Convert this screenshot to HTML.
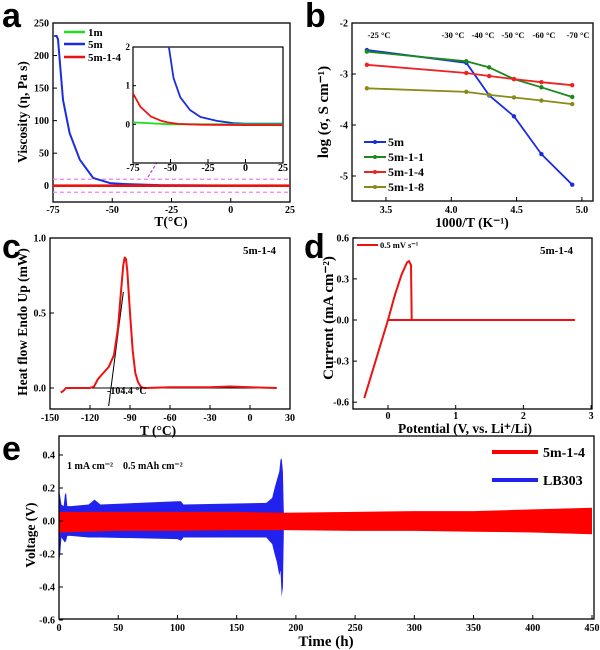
<!DOCTYPE html>
<html><head><meta charset="utf-8"><style>
html,body{margin:0;padding:0;background:#fff}
svg{display:block}
text{font-family:"Liberation Serif",serif;font-weight:bold;fill:#000}
.lt{font-family:"Liberation Sans",sans-serif;font-weight:bold;font-size:34px}
.tk{font-size:10px}
.ti{font-size:13.5px}
</style></head><body>
<svg id="fig" width="600" height="650" viewBox="0 0 600 650" xmlns="http://www.w3.org/2000/svg">
<defs>
<clipPath id="clipA"><rect x="53" y="23" width="237" height="179"/></clipPath>
<clipPath id="clipI"><rect x="133" y="47" width="150" height="116"/></clipPath>
</defs>
<g id="pa"></g>
<g id="pb"></g>
<g id="pc"></g>
<g id="pd"></g>
<g id="pe"></g>
</svg>
<script>
// ---- panel a data ----
const aT5m = [-74.5,-73.5,-72.9,-72.2,-70.8,-68,-63.7,-58.1,-51,-44,-30,0,25];
const aV5m = [230,230,225,195,132,81,40,12,4,2.5,1,0.2,0];
const aT14 = [-75,25];
const aV14 = [0,0];
const aT1m = [-75,25];
const aV1m = [0,0];
const insT5m = [-51.5,-48,-43.5,-37,-30,-19,-8,0,25];
const insV5m = [2.1,1.2,0.7,0.37,0.19,0.09,0.03,0.02,0.02];
const insT14 = [-75,-70,-63,-56,-52,-45,-30,0,25];
const insV14 = [0.8,0.45,0.2,0.09,0.05,0.01,-0.01,-0.02,-0.02];
const insT1m = [-75,-50,0,25];
const insV1m = [0.05,0.0,0.0,0.0];
const aXTicks = [-75,-50,-25,0,25];
const aYTicks = [0,50,100,150,200,250];
const insYTicks = [0,1,2];
// ---- panel b data ----
const bX = [3.354,4.115,4.29,4.48,4.69,4.926];
const b5m = [-2.53,-2.78,-3.42,-3.83,-4.57,-5.17];
const b511 = [-2.56,-2.75,-2.87,-3.1,-3.26,-3.45];
const b514 = [-2.82,-2.98,-3.04,-3.1,-3.16,-3.22];
const b518 = [-3.28,-3.35,-3.41,-3.46,-3.52,-3.59];
const bTempLabels = ["-25 °C","-30 °C","-40 °C","-50 °C","-60 °C","-70 °C"];
const bXTicks = [3.5,4.0,4.5,5.0];
const bYTicks = [-2,-3,-4,-5];
// ---- panel c data ----
const cT = [-142,-140,-138,-135,-120,-117,-114,-110,-106,-102,-99,-97,-95,-94,-93,-92,-90,-88,-86,-84,-82,-80,-78,-60,-30,-15,0,20];
const cH = [-0.03,-0.02,0,0,0,0.01,0.06,0.1,0.14,0.22,0.4,0.62,0.82,0.87,0.86,0.78,0.5,0.25,0.1,0.04,0.01,0,0,0.005,0.005,0.01,0.005,0];
const cXTicks = [-150,-120,-90,-60,-30,0,30];
const cYTicks = [0.0,0.5,1.0];
// ---- panel d data ----
const dV = [-0.35,0,0.1,0.2,0.28,0.31,0.34,0.35,0.36,2.75,0,-0.35];
const dI = [-0.57,0,0.18,0.33,0.42,0.43,0.4,0.0,0,0,0,-0.57];
const dXTicks = [0,1,2,3];
const dYTicks = [-0.6,-0.3,0.0,0.3,0.6];
// ---- panel e data ----
const eBlueT = [0,1,2,4,5,6,7,10,25,30,35,100,103,105,175,180,182,184,186,187,188,189,190];
const eBlueUp = [0.19,0.15,0.1,0.09,0.16,0.17,0.09,0.09,0.1,0.13,0.1,0.12,0.12,0.1,0.11,0.14,0.2,0.25,0.3,0.37,0.38,0.3,0.0];
const eBlueLo = [-0.26,-0.2,-0.1,-0.12,-0.13,-0.12,-0.09,-0.09,-0.1,-0.1,-0.1,-0.11,-0.12,-0.1,-0.1,-0.14,-0.2,-0.25,-0.33,-0.3,-0.46,-0.4,0.0];
const eRedT = [0,50,100,150,190,250,300,350,400,450];
const eRedUp = [0.055,0.055,0.055,0.055,0.05,0.055,0.06,0.06,0.07,0.08];
const eRedLo = [-0.07,-0.06,-0.06,-0.055,-0.055,-0.06,-0.06,-0.065,-0.07,-0.08];
const eXTicks = [0,50,100,150,200,250,300,350,400,450];
const eYTicks = [-0.6,-0.4,-0.2,0.0,0.2,0.4];

const NS="http://www.w3.org/2000/svg";
function mk(parent,tag,attrs,txt){const e=document.createElementNS(NS,tag);for(const k in attrs)e.setAttribute(k,attrs[k]);if(txt!==undefined)e.textContent=txt;parent.appendChild(e);return e;}
function pts(xs,ys,sx,sy){return xs.map((v,i)=>sx(v).toFixed(1)+","+sy(ys[i]).toFixed(1)).join(" ");}

// scales
const aX=v=>53+(v+75)/100*237, aY=v=>202-(v+25)/275*179;
const iX=v=>133+(v+75)/100*150, iY=v=>163-(v+1)/3*116;
const bXs=v=>352+(v-3.24)/(5.085-3.24)*241, bYs=v=>23+(-2-v)*51;
const cX=v=>50+(v+150)/180*240, cY=v=>388-v*150;
const dX=v=>388+v*67.7, dY=v=>320-v*137;
const eX=v=>59+v/450*533, eY=v=>521-v*165;

function frame(g,x,y,w,h){const r=mk(g,"rect",{x:x,y:y,width:w,height:h,fill:"none",stroke:"#000","stroke-width":1.3});}
function xticks(g,ticks,sx,y0,fmt,ly){ticks.forEach(t=>{const x=sx(t);mk(g,"line",{x1:x,x2:x,y1:y0,y2:y0-4,stroke:"#000"});const tx=mk(g,"text",{x:x,y:ly,"text-anchor":"middle",class:"tk"},fmt(t));});}
function yticks(g,ticks,sy,x0,fmt){ticks.forEach(t=>{const y=sy(t);mk(g,"line",{x1:x0,x2:x0+4,y1:y,y2:y,stroke:"#000"});const tx=mk(g,"text",{x:x0-4,y:y+3.5,"text-anchor":"end",class:"tk"},fmt(t));});}
function line(g,xs,ys,sx,sy,col,w,name,clip){const p=mk(g,"polyline",{points:pts(xs,ys,sx,sy),fill:"none",stroke:col,"stroke-width":w,"stroke-linejoin":"round"});if(clip)p.setAttribute("clip-path",clip);return p;}
function label(g,x,y,s,cls,name,extra){const t=mk(g,"text",Object.assign({x:x,y:y,class:cls},extra||{}),s);return t;}

// ===== Panel a =====
(function(){
const g=document.getElementById("pa");
label(g,2,27,"a","lt","panel-label-a");
frame(g,53,23,237,179);
xticks(g,aXTicks,aX,202,t=>t,213);
yticks(g,aYTicks,aY,53,t=>t);
mk(g,"line",{x1:53,x2:290,y1:aY(10),y2:aY(10),stroke:"#f080f0","stroke-width":1.2,"stroke-dasharray":"4,3"});
mk(g,"line",{x1:53,x2:290,y1:aY(-10),y2:aY(-10),stroke:"#f080f0","stroke-width":1.2,"stroke-dasharray":"4,3"});
mk(g,"line",{x1:148,y1:177,x2:174,y2:135,stroke:"#c040e0","stroke-width":1.2,"stroke-dasharray":"3,2"});
line(g,aT5m,aV5m,aX,aY,"#1a2de0",2,"series-5m","url(#clipA)");
line(g,aT1m,aV1m,aX,aY,"#22dd22",2,"series-1m","url(#clipA)");
line(g,aT14,aV14,aX,aY,"#ee1111",2.6,"series-5m-1-4","url(#clipA)");
const leg=[["1m","#22dd22",32],["5m","#1a2de0",44],["5m-1-4","#ee1111",57]];
leg.forEach(l=>{mk(g,"line",{x1:64,x2:85,y1:l[2],y2:l[2],stroke:l[1],"stroke-width":2.6});label(g,88,l[2]+4,l[0],"tk","legend-entry-"+l[0],{style:"font-size:11px"});});
mk(g,"rect",{x:133,y:47,width:150,height:116,fill:"#fff",stroke:"#000","stroke-width":1.2});
xticks(g,aXTicks,iX,163,t=>t,171);
insYTicks.forEach(t=>{const y=iY(t);mk(g,"line",{x1:133,x2:136,y1:y,y2:y,stroke:"#000"});label(g,130,y+3,t,"tk","inset-y-tick-label",{"text-anchor":"end",style:"font-size:9px"});});
line(g,insT5m,insV5m,iX,iY,"#1a2de0",1.8,"inset-series-5m","url(#clipI)");
line(g,insT1m,insV1m,iX,iY,"#22dd22",1.8,"inset-series-1m","url(#clipI)");
line(g,insT14,insV14,iX,iY,"#ee1111",1.8,"inset-series-5m-1-4","url(#clipI)");
label(g,171,226,"T(°C)","ti","x-axis-title",{"text-anchor":"middle"});
label(g,0,0,"Viscosity (η, Pa s)","ti","y-axis-title",{"text-anchor":"middle",transform:"translate(27,112) rotate(-90)"});
})();

// ===== Panel b =====
(function(){
const g=document.getElementById("pb");
label(g,305,27,"b","lt","panel-label-b");
frame(g,352,23,241,178);
xticks(g,bXTicks,bXs,201,t=>t.toFixed(1),213);
yticks(g,bYTicks,bYs,352,t=>t);
const tlx=[379,453,483,513,544,578];
bTempLabels.forEach((s,i)=>label(g,tlx[i],38,s,"tk","temperature-label",{"text-anchor":"middle",style:"font-size:8.5px"}));
const ser=[[b5m,"#1a2de0","5m"],[b511,"#1a8a1a","5m-1-1"],[b514,"#ee2222","5m-1-4"],[b518,"#8a8a1a","5m-1-8"]];
ser.forEach(s=>{line(g,bX,s[0],bXs,bYs,s[1],1.8,"series-"+s[2]);
 bX.forEach((x,i)=>{const m=mk(g,"circle",{cx:bXs(x),cy:bYs(s[0][i]),r:2.2,fill:s[1]});});});
const ly=[142,157,172,187];
ser.forEach((s,i)=>{mk(g,"line",{x1:364,x2:386,y1:ly[i],y2:ly[i],stroke:s[1],"stroke-width":2});mk(g,"circle",{cx:375,cy:ly[i],r:2,fill:s[1]});label(g,388,ly[i]+4,s[2],"tk","legend-entry-"+s[2],{style:"font-size:12px"});});
label(g,472,227,"1000/T (K⁻¹)","ti","x-axis-title",{"text-anchor":"middle"});
label(g,0,0,"log (σ, S cm⁻¹)","ti","y-axis-title",{"text-anchor":"middle",transform:"translate(328,112) rotate(-90)",style:"font-size:15px"});
})();

// ===== Panel c =====
(function(){
const g=document.getElementById("pc");
label(g,2,258,"c","lt","panel-label-c");
frame(g,50,238,240,171);
xticks(g,cXTicks,cX,409,t=>t,421);
yticks(g,cYTicks,cY,50,t=>t.toFixed(1));
mk(g,"line",{x1:cX(-135),x2:cX(20),y1:cY(0),y2:cY(0),stroke:"#000","stroke-width":1});
mk(g,"line",{x1:cX(-106),y1:cY(-0.12),x2:cX(-95),y2:cY(0.64),stroke:"#000","stroke-width":1});
line(g,cT,cH,cX,cY,"#ee1111",2,"series-dsc");
label(g,107,394,"-104.4 °C","tk","onset-annotation");
label(g,243,254,"5m-1-4","tk","sample-label",{style:"font-size:11px"});
label(g,158,435,"T (°C)","ti","x-axis-title",{"text-anchor":"middle"});
label(g,0,0,"Heat flow Endo Up (mW)","ti","y-axis-title",{"text-anchor":"middle",transform:"translate(27,322) rotate(-90)"});
})();

// ===== Panel d =====
(function(){
const g=document.getElementById("pd");
label(g,304,258,"d","lt","panel-label-d");
frame(g,353,238,239,171);
xticks(g,dXTicks,dX,409,t=>t,419);
yticks(g,dYTicks,dY,353,t=>t.toFixed(1));
line(g,dV,dI,dX,dY,"#ee1111",2,"series-cv");
mk(g,"line",{x1:357,x2:378,y1:245,y2:245,stroke:"#ee1111","stroke-width":2});
label(g,380,248,"0.5 mV s⁻¹","tk","legend-entry-scan-rate",{style:"font-size:8.5px"});
label(g,540,254,"5m-1-4","tk","sample-label",{style:"font-size:11px"});
label(g,465,433,"Potential (V, vs. Li⁺/Li)","ti","x-axis-title",{"text-anchor":"middle"});
label(g,0,0,"Current (mA cm⁻²)","ti","y-axis-title",{"text-anchor":"middle",transform:"translate(333,318) rotate(-90)",style:"font-size:15px"});
})();

// ===== Panel e =====
(function(){
const g=document.getElementById("pe");
label(g,2,460,"e","lt","panel-label-e");
const blue=mk(g,"polygon",{points:pts(eBlueT,eBlueUp,eX,eY)+" "+pts(eBlueT.slice().reverse(),eBlueLo.slice().reverse(),eX,eY),fill:"#2222ee"});


const red=mk(g,"polygon",{points:pts(eRedT,eRedUp,eX,eY)+" "+pts(eRedT.slice().reverse(),eRedLo.slice().reverse(),eX,eY),fill:"#ff0000"});


frame(g,59,436,535,183);
xticks(g,eXTicks,eX,619,t=>t,631);
yticks(g,eYTicks,eY,59,t=>t.toFixed(1));
label(g,67,469,"1 mA cm⁻²    0.5 mAh cm⁻²","tk","condition-label",{style:"font-size:10px;white-space:pre"});
mk(g,"line",{x1:492,x2:538,y1:452,y2:452,stroke:"#ff0000","stroke-width":4});
label(g,543,457,"5m-1-4","ti","legend-entry-5m-1-4",{style:"font-size:14px"});
mk(g,"line",{x1:492,x2:538,y1:480,y2:480,stroke:"#2222ee","stroke-width":4});
label(g,543,485,"LB303","ti","legend-entry-lb303",{style:"font-size:14px"});
label(g,326,646,"Time (h)","ti","x-axis-title",{"text-anchor":"middle",style:"font-size:15px"});
label(g,0,0,"Voltage (V)","ti","y-axis-title",{"text-anchor":"middle",transform:"translate(35,535) rotate(-90)"});
})();
</script>
</body></html>
